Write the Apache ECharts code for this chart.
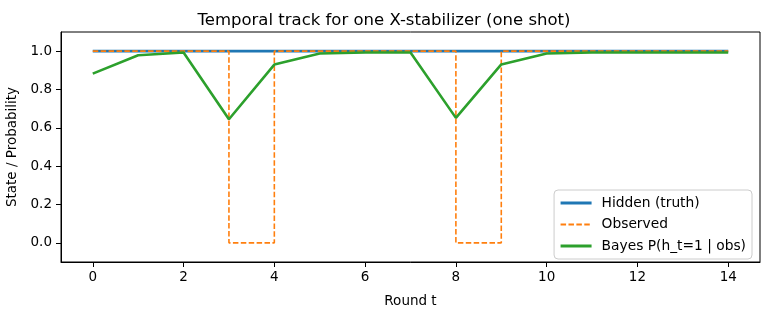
<!DOCTYPE html>
<html>
<head>
<meta charset="utf-8">
<script src="https://cdn.jsdelivr.net/npm/echarts@6/dist/echarts.min.js"></script>
<style>html,body{margin:0;padding:0;background:#fff}#c{width:768px;height:316px}</style>
</head>
<body>
<div id="c"></div>
<script>
const rounds = [0,1,2,3,4,5,6,7,8,9,10,11,12,13,14];
const hidden = [1,1,1,1,1,1,1,1,1,1,1,1,1,1,1];
const observed = [1,1,1,0,1,1,1,1,0,1,1,1,1,1,1];
const bayes = [0.883,0.979,0.993,0.645,0.930,0.988,0.993,0.993,0.652,0.931,0.988,0.993,0.993,0.993,0.993];
const xTicks = [0,2,4,6,8,10,12,14];
const yTicks = [0.0,0.2,0.4,0.6,0.8,1.0];

const font = 'DejaVu Sans';
const pair = (ys) => rounds.map((x,i)=>[x, ys[i]]);
const chart = echarts.init(document.getElementById('c'), null, {renderer:'canvas'});
chart.setOption({
  animation:false,
  backgroundColor:'#fff',
  title:{text:'Temporal track for one X-stabilizer (one shot)', left:'center', top:7,
    textStyle:{fontFamily:font, fontSize:16.5, fontWeight:'normal', color:'#000'}},
  grid:{left:61, right:8, top:32, bottom:54, outerBoundsMode:'none', containLabel:false,
    show:true, borderColor:'#000', borderWidth:1, backgroundColor:'transparent'},
  xAxis:{type:'value', min:-0.7, max:14.7, name:'Round t', nameLocation:'middle', nameGap:32,
    nameTextStyle:{fontFamily:font, fontSize:13.5, color:'#000'},
    axisLine:{show:true, onZero:false, lineStyle:{color:'#000', width:1}},
    axisTick:{show:true, length:5, customValues:xTicks, lineStyle:{color:'#000'}},
    axisLabel:{customValues:xTicks, fontFamily:font, fontSize:13.5, color:'#000', margin:8},
    splitLine:{show:false}},
  yAxis:{type:'value', min:-0.1, max:1.1, name:'State / Probability', nameLocation:'middle', nameGap:36,
    nameTextStyle:{fontFamily:font, fontSize:13.5, color:'#000'},
    axisLine:{show:true, onZero:false, lineStyle:{color:'#000', width:1}},
    axisTick:{show:true, length:5, customValues:yTicks, lineStyle:{color:'#000'}},
    axisLabel:{customValues:yTicks, fontFamily:font, fontSize:13.5, color:'#000', margin:9, formatter:(v)=>v.toFixed(1)},
    splitLine:{show:false}},
  legend:{orient:'vertical', right:16, top:190, itemWidth:31, itemHeight:14, itemGap:7.5,
    padding:[6,6,6,5], backgroundColor:'rgba(255,255,255,0.8)', borderColor:'#ccc', borderWidth:1, borderRadius:4,
    itemStyle:{opacity:0},
    textStyle:{fontFamily:font, fontSize:13.8, color:'#000', padding:[0,0,0,5]},
    data:[
      {name:'Hidden (truth)', lineStyle:{width:3}},
      {name:'Observed', lineStyle:{width:1.8}},
      {name:'Bayes P(h_t=1 | obs)', lineStyle:{width:3}}
    ]},
  series:[
    {name:'Hidden (truth)', type:'line', data:pair(hidden), symbol:'none', color:'#1f77b4',
      lineStyle:{color:'#1f77b4', width:2.6}, z:2},
    {name:'Observed', type:'line', step:'end', data:pair(observed), symbol:'none', color:'#ff7f0e',
      lineStyle:{color:'#ff7f0e', width:1.6, type:[5.5,2.4]}, z:3},
    {name:'Bayes P(h_t=1 | obs)', type:'line', data:pair(bayes), symbol:'none', color:'#2ca02c',
      lineStyle:{color:'#2ca02c', width:2.6}, z:4}
  ]
});
</script>
</body>
</html>
